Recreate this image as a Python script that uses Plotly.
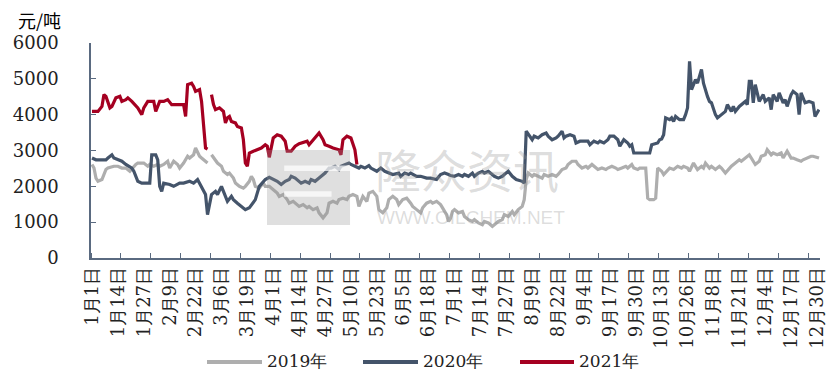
import pandas as pd
import plotly.graph_objects as go

# ---- data: (day-of-year index in a 366-day calendar, price 元/吨) ----
s2019 = [(0,2610),(1,2510),(2,2230),(3,2140),(5,2190),(7,2470),(8,2510),(11,2560),(13,2560),(15,2510),(17,2510),(19,2420),(22,2610),(23,2650),(26,2650),(28,2560),(29,2610),(31,2560),(33,2610),(34,2560),(36,2610),(38,2700),(39,2510),(41,2700),(43,2610),(44,2510),(46,2650),(48,2840),(49,2790),(51,2880),(52,3070),(54,2840),(55,2790),(57,2700),(58,2650),(59,None),(60,2880),(61,2790),(63,2650),(65,2560),(66,2420),(68,2330),(69,2370),(71,2230),(72,2090),(74,2000),(76,1950),(77,2000),(79,2140),(80,2280),(81,2190),(82,2000),(84,1950),(86,2090),(87,2000),(89,2000),(91,1910),(93,1810),(94,1720),(96,1770),(98,1630),(99,1530),(101,1580),(103,1490),(104,1440),(106,1490),(108,1400),(109,1440),(111,1350),(113,1400),(114,1260),(116,1120),(118,1260),(119,1530),(121,1580),(123,1530),(124,1630),(126,1670),(128,1630),(129,1720),(131,1770),(133,1720),(134,1440),(136,1720),(138,1580),(139,1810),(141,1860),(143,1720),(144,1350),(146,1260),(148,1400),(149,1630),(151,1720),(153,1630),(154,1490),(156,1630),(158,1670),(160,1530),(161,1440),(163,1350),(165,1260),(166,1400),(168,1530),(170,1580),(171,1530),(173,1580),(175,1490),(176,1400),(178,1210),(179,1020),(180,1110),(181,1300),(182,1350),(184,1260),(186,1300),(187,1160),(189,1070),(191,1020),(192,1070),(194,980),(196,930),(197,1020),(199,980),(201,880),(202,930),(204,1020),(206,1070),(207,1210),(209,1160),(211,1300),(212,1210),(214,1350),(216,1440),(217,1630),(218,2190),(219,2370),(221,2280),(222,2330),(224,2280),(226,2230),(227,2330),(229,2280),(231,2330),(233,2280),(234,2330),(236,2470),(238,2510),(239,2610),(241,2700),(243,2700),(244,2610),(246,2510),(248,2560),(249,2510),(251,2610),(253,2510),(254,2470),(256,2510),(258,2470),(259,2510),(261,2560),(263,2510),(264,2470),(266,2510),(268,2560),(269,2510),(271,2610),(272,2510),(274,2470),(275,2510),(277,2510),(278,2510),(279,1670),(280,1630),(282,1630),(283,1670),(284,2510),(286,2420),(287,2330),(289,2470),(290,2510),(292,2470),(294,2560),(296,2510),(297,2560),(299,2510),(300,2420),(302,2650),(304,2470),(306,2560),(307,2510),(308,2650),(310,2510),(311,2560),(313,2470),(315,2560),(316,2510),(318,2370),(320,2510),(321,2560),(323,2650),(325,2740),(326,2700),(328,2790),(330,2880),(331,2790),(333,2610),(335,2700),(336,2840),(338,2880),(339,3020),(341,2880),(342,2930),(344,2880),(346,2930),(347,2790),(349,2980),(351,2790),(352,2790),(354,2740),(356,2700),(357,2740),(359,2790),(361,2840),(362,2840),(365,2790)]

s2020 = [(0,2790),(2,2740),(4,2740),(7,2740),(8,2790),(10,2880),(11,2790),(13,2740),(15,2700),(17,2610),(18,2580),(20,2510),(21,2420),(23,2140),(25,2090),(29,2090),(30,2880),(32,2880),(33,2740),(34,2000),(35,1860),(36,2090),(39,2050),(41,2000),(44,2090),(46,2090),(49,2140),(51,2090),(53,2190),(55,2000),(57,1770),(58,1210),(59,1530),(60,1770),(62,1860),(63,1770),(65,2000),(66,1860),(67,1720),(68,1580),(70,1720),(71,1630),(73,1530),(75,1440),(77,1350),(79,1400),(80,1490),(82,1630),(84,2000),(86,2140),(87,2190),(89,2250),(91,2190),(93,2140),(95,2050),(97,2140),(99,2190),(100,2280),(102,2230),(104,2140),(105,2090),(107,2140),(109,2090),(110,2190),(112,2140),(114,2230),(115,2280),(117,2370),(119,2510),(120,2510),(122,2560),(124,2470),(125,2560),(127,2610),(129,2650),(130,2610),(132,2560),(134,2510),(135,2560),(137,2510),(139,2580),(140,2510),(143,2420),(145,2510),(147,2420),(149,2370),(151,2330),(154,2370),(155,2280),(157,2370),(159,2330),(160,2370),(163,2280),(165,2280),(168,2230),(170,2230),(173,2190),(175,2330),(177,2370),(179,2330),(180,2300),(182,2280),(184,2330),(186,2280),(187,2330),(189,2280),(191,2370),(192,2280),(194,2370),(196,2420),(197,2370),(199,2420),(201,2330),(202,2280),(204,2230),(206,2280),(207,2330),(209,2420),(211,2280),(213,2190),(216,2140),(217,2090),(218,3540),(220,3400),(221,3300),(222,3400),(224,3350),(226,3440),(228,3490),(229,3400),(231,3300),(233,3350),(234,3400),(236,3540),(237,3350),(238,3400),(240,3440),(242,3400),(243,3210),(245,3260),(247,3260),(249,3260),(250,3160),(252,3260),(254,3210),(255,3260),(257,3210),(259,3300),(260,3400),(262,3400),(264,3300),(265,3120),(267,3300),(269,3210),(270,3120),(271,3160),(272,2930),(273,2930),(280,2930),(281,3160),(284,3210),(285,3300),(286,3320),(287,3440),(288,3910),(290,3860),(291,3910),(292,3810),(293,3950),(295,3860),(297,3860),(298,4000),(299,4190),(300,5490),(301,4700),(303,4980),(304,4880),(306,5260),(307,4880),(309,4510),(310,4370),(311,4330),(313,4000),(314,3910),(316,4000),(318,4090),(319,4280),(321,4090),(322,4230),(323,4090),(325,4230),(327,4330),(328,4370),(329,4280),(330,4930),(331,4930),(332,4330),(333,4840),(335,4370),(337,4560),(338,4370),(340,4470),(341,4140),(342,4560),(344,4370),(345,4610),(347,4330),(348,4420),(349,4230),(351,4560),(352,4650),(354,4560),(355,4000),(356,4610),(358,4330),(360,4370),(362,4330),(363,3950),(365,4140)]

s2021 = [(0,4090),(3,4090),(5,4230),(6,4560),(7,4510),(9,4190),(10,4230),(11,4370),(12,4470),(14,4510),(15,4370),(17,4420),(18,4470),(20,4370),(22,4230),(23,4190),(25,4000),(26,4190),(28,4370),(31,4370),(32,4090),(34,4370),(36,4370),(38,4420),(40,4280),(43,4280),(46,4280),(47,3950),(48,4840),(50,4880),(51,4790),(52,4650),(54,4700),(55,4370),(56,3670),(57,3070),(58,3040),(59,None),(60,4560),(61,4280),(62,4140),(64,4190),(66,4090),(67,3770),(68,3910),(69,3950),(70,3810),(72,3770),(73,3670),(75,3630),(76,3300),(77,2650),(78,2560),(79,2930),(81,2980),(83,3020),(85,3070),(87,3160),(88,3120),(89,2810),(90,3120),(91,3350),(93,3440),(95,3400),(97,3260),(98,2980),(100,2980),(102,3120),(104,3190),(106,3230),(108,3260),(109,3160),(111,3300),(113,3440),(114,3490),(116,3300),(117,3160),(119,3120),(121,3070),(124,3020),(125,2880),(126,3300),(128,3400),(130,3350),(131,3210),(132,3020),(133,2610)]

tick_labels = ["1月1日","1月14日","1月27日","2月9日","2月22日","3月6日","3月19日","4月1日",
               "4月14日","4月27日","5月10日","5月23日","6月5日","6月18日","7月1日","7月14日",
               "7月27日","8月9日","8月22日","9月4日","9月17日","9月30日","10月13日","10月26日",
               "11月8日","11月21日","12月4日","12月17日","12月30日"]

series_names = ["2019年", "2020年", "2021年"]
series_colors = ["#AEAEAE", "#44546A", "#A50021"]

base = pd.Timestamp("2020-01-01")


def to_xy(pairs):
    d, v = zip(*pairs)
    return base + pd.to_timedelta(list(d), unit="D"), list(v)


tick_dates = [pd.Timestamp(f"2020-{l.split('月')[0]}-{l.split('月')[1].rstrip('日')}") for l in tick_labels]

fig = go.Figure()
for name, col, data in zip(series_names, series_colors, [s2019, s2020, s2021]):
    x, y = to_xy(data)
    fig.add_trace(go.Scatter(x=x, y=y, mode="lines", name=name, showlegend=False,
                             line=dict(color=col, width=3.2), connectgaps=False))

axis_col = "#5A6A80"
half = pd.Timedelta(hours=12)
minor_vals = list(pd.date_range(base - half, periods=25, freq="15D"))

fig.update_layout(
    width=830, height=372,
    margin=dict(l=91, r=10, t=43, b=114, autoexpand=False),
    plot_bgcolor="white", paper_bgcolor="white",
    showlegend=False,
    xaxis=dict(type="date", range=[base - half, base + pd.Timedelta(days=365) + half],
               tickmode="array", tickvals=tick_dates, ticktext=tick_labels, automargin=False,
               tickangle=-90, ticks="", showline=True, linecolor=axis_col, linewidth=1.5,
               showgrid=False, zeroline=False,
               tickfont=dict(family="DejaVu Serif", size=18, color="#222"),
               minor=dict(ticks="inside", ticklen=5, tickcolor=axis_col, tickwidth=1.2,
                          tickmode="array", tickvals=minor_vals, showgrid=False)),
    yaxis=dict(range=[0, 6000], dtick=1000, tick0=0, ticks="inside", ticklen=5, automargin=False,
               tickcolor=axis_col, tickwidth=1.2, showline=True, linecolor=axis_col,
               linewidth=1.5, showgrid=False, zeroline=False, ticklabelstandoff=27,
               tickfont=dict(family="DejaVu Serif", size=18, color="#222")),
)

# legend drawn by hand (long line samples, as in the reference)
leg_line_x = [(207, 262), (363, 418), (520, 574)]
leg_text_x = [265, 421, 577]
W, PL, PB, PH = 729, 91, 258, 215
for (x0, x1), tx, name, col in zip(leg_line_x, leg_text_x, series_names, series_colors):
    fig.add_shape(type="line", xref="paper", yref="paper",
                  x0=(x0 - PL) / W, x1=(x1 - PL) / W, y0=(PB - 362) / PH, y1=(PB - 362) / PH,
                  line=dict(color=col, width=4))
    fig.add_annotation(text=name, xref="paper", yref="paper", x=(tx - PL) / W, y=(PB - 361) / PH,
                       xanchor="left", yanchor="middle", showarrow=False,
                       font=dict(family="DejaVu Serif", size=17, color="#222"))

# unit label
fig.add_annotation(text="元/吨", xref="paper", yref="paper", x=(16 - PL) / W, y=(PB - 20) / PH,
                   xanchor="left", yanchor="middle", showarrow=False,
                   font=dict(family="Noto Sans CJK SC", size=18, color="#000"))

# watermark
wm = "rgba(150,150,150,0.33)"
fig.add_annotation(text="隆众资讯", xref="paper", yref="paper", x=0.516, y=(PB - 168) / PH,
                   showarrow=False, font=dict(family="Noto Sans CJK SC", size=46, color=wm))
fig.add_annotation(text="WWW.OILCHEM.NET", xref="paper", yref="paper", x=0.521, y=(PB - 230) / PH,
                   showarrow=False, font=dict(family="Liberation Sans", size=19, color=wm))
fig.add_shape(type="rect", xref="paper", yref="paper", x0=0.2414, x1=0.3553, y0=0.153, y1=0.502,
              fillcolor="rgba(150,150,150,0.30)", line_width=0)
fig.add_shape(type="rect", xref="paper", yref="paper", x0=0.265, x1=0.3553, y0=0.405, y1=0.43,
              fillcolor="rgba(255,255,255,0.7)", line_width=0)
fig.add_shape(type="rect", xref="paper", yref="paper", x0=0.265, x1=0.33, y0=0.285, y1=0.31,
              fillcolor="rgba(255,255,255,0.7)", line_width=0)

fig.write_html("out.html")
